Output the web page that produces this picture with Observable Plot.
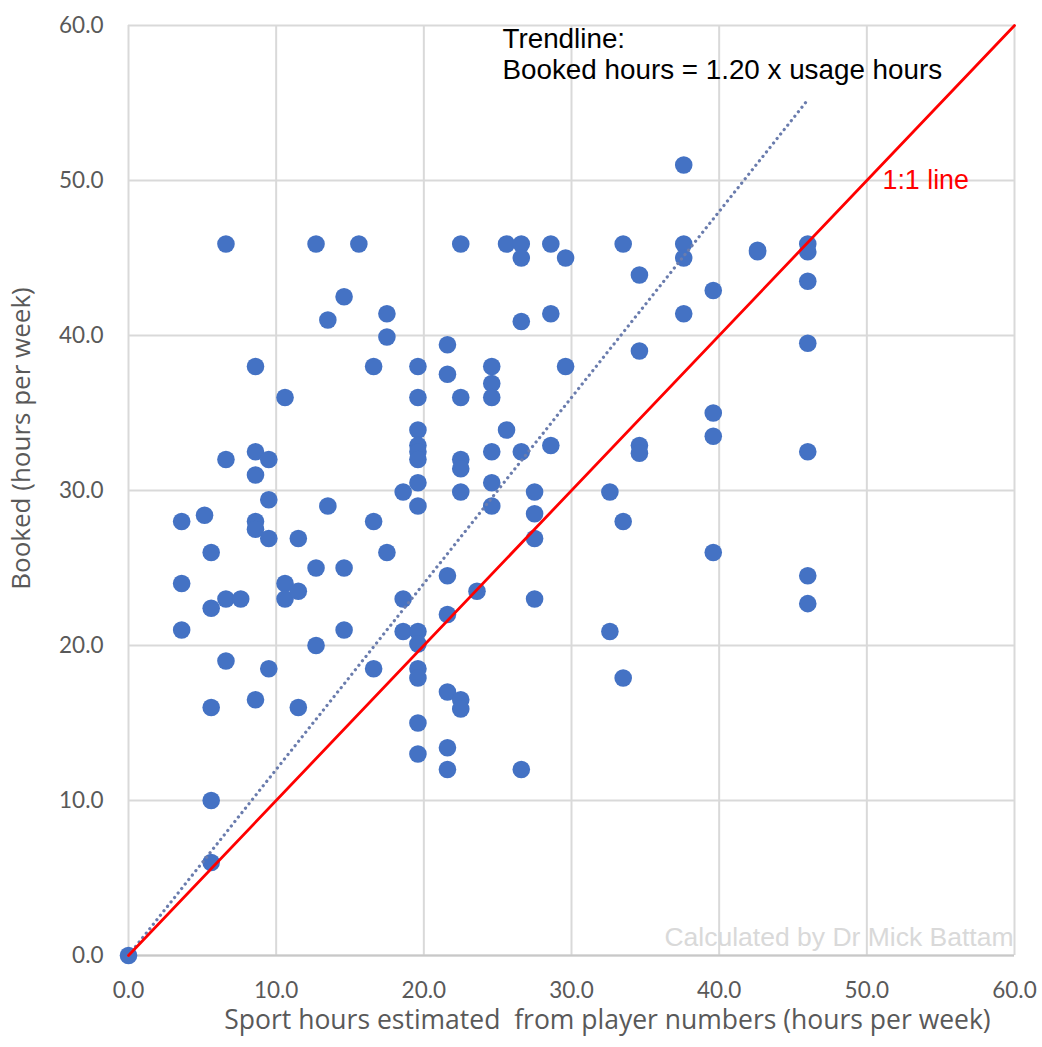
<!DOCTYPE html>
<html>
<head>
<meta charset="utf-8">
<script src="https://cdn.jsdelivr.net/npm/d3@7"></script>
<script src="https://cdn.jsdelivr.net/npm/@observablehq/plot@0.6"></script>
<style>
  html, body { margin: 0; padding: 0; background: #fff; }
</style>
</head>
<body>
<div id="chart"></div>
<script>
// Estimated sport hours (from player numbers), hours per week
const usageHours = [
  0.0,
  3.6, 3.6, 3.6,
  5.15,
  5.6, 5.6, 5.6, 5.6, 5.6,
  6.6, 6.6, 6.6, 6.6,
  7.6,
  8.6, 8.6, 8.6, 8.6, 8.6, 8.6,
  9.5, 9.5, 9.5, 9.5,
  10.6, 10.6, 10.6,
  11.5, 11.5, 11.5,
  12.7, 12.7, 12.7,
  13.5, 13.5,
  14.6, 14.6, 14.6,
  15.6,
  16.6, 16.6, 16.6,
  17.5, 17.5, 17.5,
  18.6, 18.6, 18.6,
  19.6, 19.6, 19.6, 19.6, 19.6, 19.6, 19.6, 19.6, 19.6, 19.6, 19.6, 19.6, 19.6, 19.6,
  21.6, 21.6, 21.6, 21.6, 21.6, 21.6, 21.6,
  22.5, 22.5, 22.5, 22.5, 22.5, 22.5, 22.5,
  23.6,
  24.6, 24.6, 24.6, 24.6, 24.6, 24.6,
  25.6, 25.6,
  26.6, 26.6, 26.6, 26.6, 26.6,
  27.5, 27.5, 27.5, 27.5,
  28.6, 28.6, 28.6,
  29.6, 29.6,
  32.6, 32.6,
  33.5, 33.5, 33.5,
  34.6, 34.6, 34.6, 34.6,
  37.6, 37.6, 37.6, 37.6,
  39.6, 39.6, 39.6, 39.6,
  42.6, 42.6,
  46.0, 46.0, 46.0, 46.0, 46.0, 46.0, 46.0
];
// Booked hours per week
const bookedHours = [
  0.0,
  28.0, 24.0, 21.0,
  28.4,
  26.0, 22.4, 16.0, 10.0, 6.0,
  45.9, 32.0, 23.0, 19.0,
  23.0,
  38.0, 32.5, 31.0, 28.0, 27.5, 16.5,
  32.0, 29.4, 26.9, 18.5,
  36.0, 24.0, 23.0,
  26.9, 23.5, 16.0,
  45.9, 25.0, 20.0,
  41.0, 29.0,
  42.5, 25.0, 21.0,
  45.9,
  38.0, 28.0, 18.5,
  41.4, 39.9, 26.0,
  29.9, 23.0, 20.9,
  38.0, 36.0, 33.9, 32.9, 32.5, 32.0, 30.5, 29.0, 20.9, 20.1, 18.5, 17.9, 15.0, 13.0,
  39.4, 37.5, 24.5, 22.0, 17.0, 13.4, 12.0,
  45.9, 36.0, 32.0, 31.4, 29.9, 16.5, 15.9,
  23.5,
  38.0, 36.9, 36.0, 32.5, 30.5, 29.0,
  45.9, 33.9,
  45.9, 45.0, 40.9, 32.5, 12.0,
  29.9, 28.5, 26.9, 23.0,
  45.9, 41.4, 32.9,
  45.0, 38.0,
  29.9, 20.9,
  45.9, 28.0, 17.9,
  43.9, 39.0, 32.9, 32.4,
  51.0, 45.9, 45.0, 41.4,
  42.9, 35.0, 33.5, 26.0,
  45.5, 45.4,
  45.9, 45.4, 43.5, 39.5, 32.5, 24.5, 22.7
];
const xTicks = [0, 10, 20, 30, 40, 50, 60];
const yTicks = [0, 10, 20, 30, 40, 50, 60];
const trendSlope = 1.20;
const identityEnds = [0, 60];

const xLabel = "Sport hours estimated  from player numbers (hours per week)";
const yLabel = "Booked (hours per week)";
const trendText = "Trendline:\nBooked hours = 1.20 x usage hours";
const identityText = "1:1 line";
const creditText = "Calculated by Dr Mick Battam";

const points = usageHours.map((u, i) => ({usage: u, booked: bookedHours[i]}));
const maxUsage = d3.max(usageHours);
const trendLine = [0, maxUsage].map(u => ({usage: u, booked: trendSlope * u}));
const identityLine = identityEnds.map(v => ({usage: v, booked: v}));

const tickFont = "Lato, 'Open Sans', sans-serif";
const titleFont = "'Open Sans', Lato, sans-serif";
const annoFont = "'Liberation Sans', Arial, sans-serif";

const chart = Plot.plot({
  width: 1042,
  height: 1047,
  marginLeft: 128,
  marginRight: 28,
  marginTop: 25,
  marginBottom: 92,
  style: {fontFamily: tickFont, background: "#fff", overflow: "visible"},
  x: {domain: [0, 60]},
  y: {domain: [0, 60]},
  marks: [
    Plot.gridX(xTicks, {stroke: "#d9d9d9", strokeOpacity: 1, strokeWidth: 2}),
    Plot.gridY(yTicks, {stroke: "#d9d9d9", strokeOpacity: 1, strokeWidth: 2}),
    Plot.ruleY([0], {stroke: "#c8c8c8", strokeWidth: 2}),
    Plot.axisX(xTicks, {tickSize: 0, tickPadding: 27, tickFormat: d => d.toFixed(1), label: null, fontSize: 22.5, fill: "#595959"}),
    Plot.axisY(yTicks, {tickSize: 0, tickPadding: 25, tickFormat: d => d.toFixed(1), label: null, fontSize: 22.5, fill: "#595959"}),
    Plot.dot(points, {x: "usage", y: "booked", r: 8.8, fill: "#4472c4", stroke: "none"}),
    Plot.line(trendLine, {x: "usage", y: "booked", stroke: "#6a7cad", strokeWidth: 3.2, strokeDasharray: "0.1 5.6", strokeLinecap: "round"}),
    Plot.line(identityLine, {x: "usage", y: "booked", stroke: "#ff0000", strokeWidth: 2.8}),
    Plot.text([trendText], {frameAnchor: "top-left", textAnchor: "start", lineAnchor: "top", dx: 374, dy: 0, lineHeight: 1.13, fontSize: 27.8, fontFamily: annoFont, fill: "#000"}),
    Plot.text([identityText], {frameAnchor: "top-left", textAnchor: "start", lineAnchor: "top", dx: 754, dy: 144, fontSize: 26.8, fontFamily: annoFont, fill: "#ff0000"}),
    Plot.text([creditText], {frameAnchor: "bottom-right", textAnchor: "end", lineAnchor: "bottom", dx: -1, dy: -10, fontSize: 26.5, fontFamily: annoFont, fill: "#d9d9d9"}),
    Plot.text([xLabel], {frameAnchor: "bottom", textAnchor: "middle", lineAnchor: "top", dx: 36, dy: 55, fontSize: 26.5, fontFamily: titleFont, fill: "#595959"}),
    Plot.text([yLabel], {frameAnchor: "left", textAnchor: "middle", lineAnchor: "middle", rotate: -90, dx: -107, dy: -52, fontSize: 26, fontFamily: titleFont, fill: "#595959"})
  ]
});
document.getElementById("chart").appendChild(chart);
</script>
</body>
</html>
